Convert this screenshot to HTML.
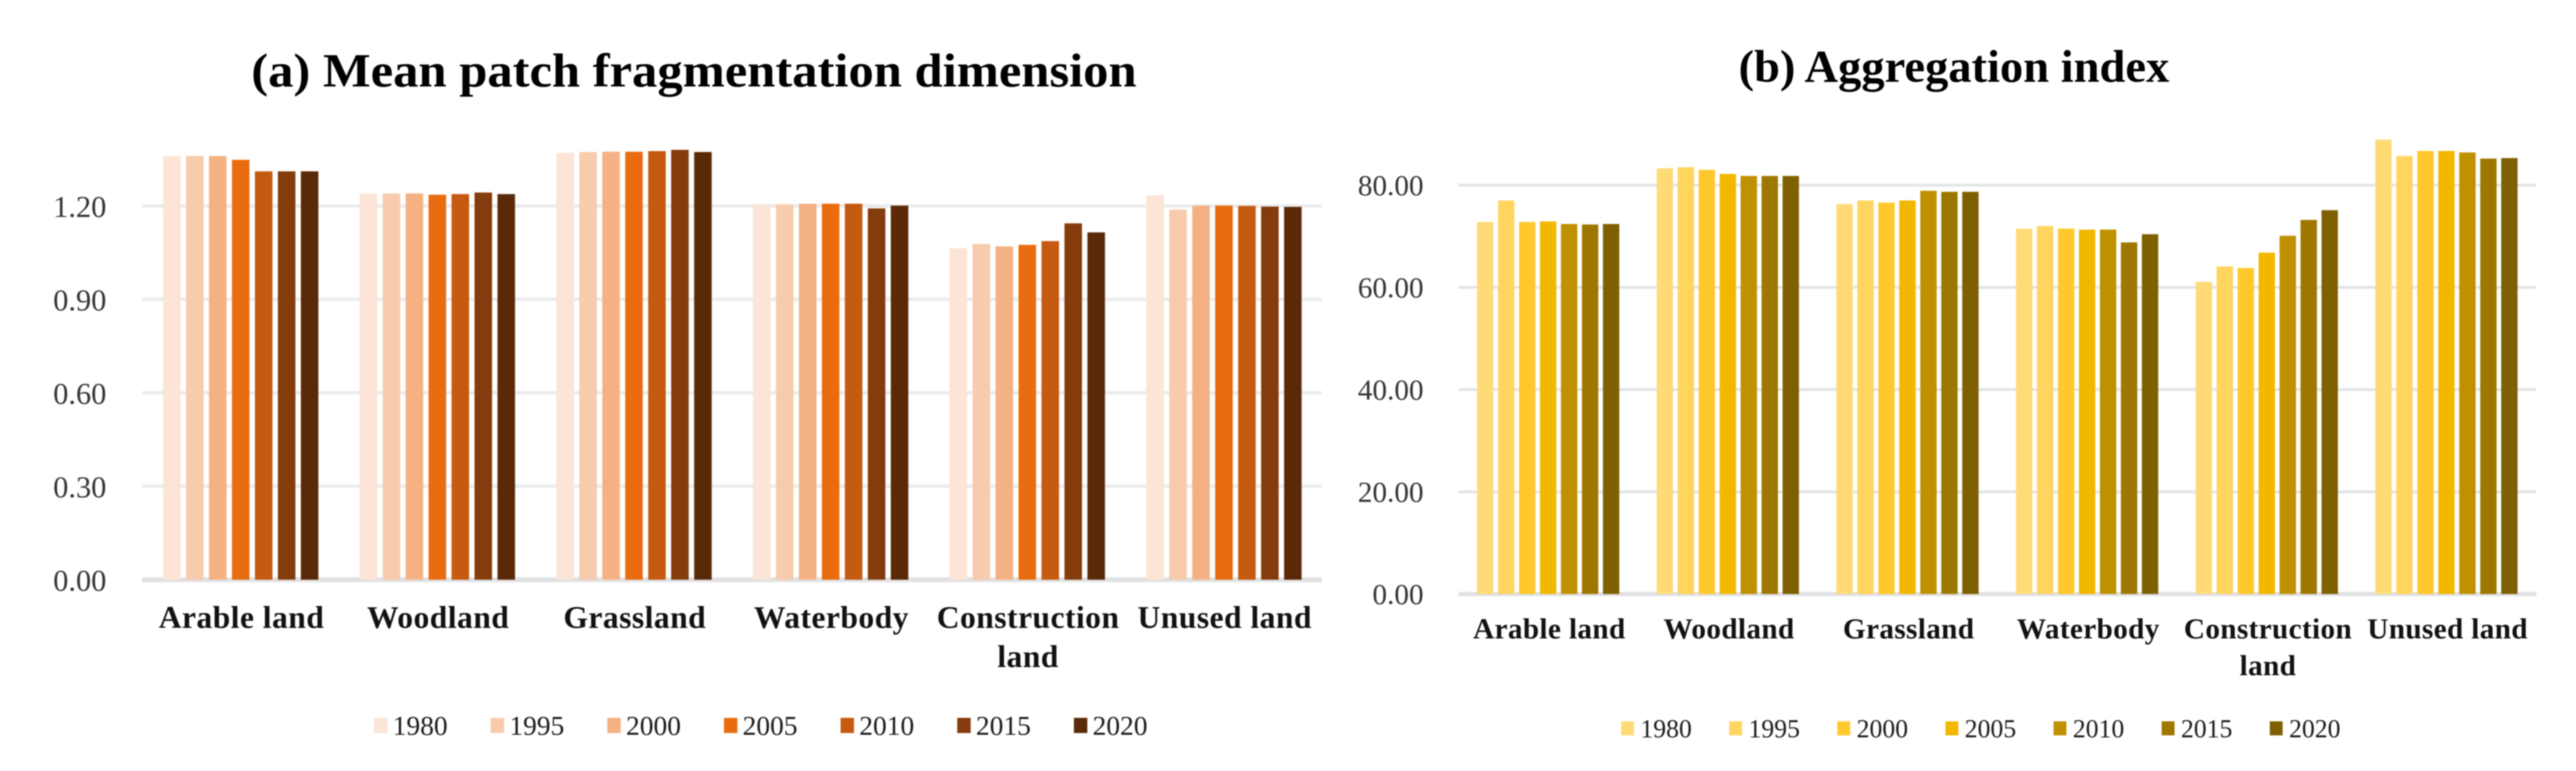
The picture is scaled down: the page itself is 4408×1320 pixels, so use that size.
<!DOCTYPE html>
<html lang="en">
<head>
<meta charset="utf-8">
<title>Mean patch fragmentation dimension and aggregation index</title>
<style>
  html, body { margin: 0; padding: 0; background: #fff; }
  body { width: 4408px; height: 1320px; overflow: hidden; }
  svg { display: block; font-family: "Liberation Serif", serif; filter: blur(1px); }
</style>
</head>
<body>
<svg id="figure" width="4408" height="1320" viewBox="0 0 4408 1320" xmlns="http://www.w3.org/2000/svg">
  <rect x="0" y="0" width="4408" height="1320" fill="#ffffff"/>
  <text x="430" y="148" font-size="82" font-weight="700" fill="#000" textLength="1515" lengthAdjust="spacingAndGlyphs">(a) Mean patch fragmentation dimension</text>
  <text x="2975" y="140" font-size="78" font-weight="700" fill="#000" textLength="737" lengthAdjust="spacingAndGlyphs">(b) Aggregation index</text>
  <g id="chart-a"></g>
  <g id="chart-b"></g>
</svg>
<script>
// Shared categories and legend years
const categories = ['Arable land', 'Woodland', 'Grassland', 'Waterbody', 'Construction\nland', 'Unused land'];
const years = ['1980', '1995', '2000', '2005', '2010', '2015', '2020'];

// Chart (a) values, one array per year, in category order
const a1980 = [1.360, 1.240, 1.370, 1.204, 1.064, 1.234];
const a1995 = [1.360, 1.240, 1.373, 1.205, 1.078, 1.188];
const a2000 = [1.360, 1.240, 1.374, 1.207, 1.070, 1.201];
const a2005 = [1.348, 1.236, 1.374, 1.207, 1.075, 1.201];
const a2010 = [1.311, 1.238, 1.376, 1.207, 1.087, 1.200];
const a2015 = [1.311, 1.243, 1.380, 1.192, 1.144, 1.198];
const a2020 = [1.311, 1.238, 1.373, 1.201, 1.115, 1.197];
const aTickValues = [0, 0.3, 0.6, 0.9, 1.2];
const aTickLabels = ['0.00', '0.30', '0.60', '0.90', '1.20'];

// Chart (b) values, one array per year, in category order
const b1980 = [72.8, 83.3, 76.3, 71.5, 61.1, 88.9];
const b1995 = [77.0, 83.5, 77.0, 72.0, 64.1, 85.7];
const b2000 = [72.8, 83.0, 76.6, 71.5, 63.8, 86.7];
const b2005 = [72.9, 82.2, 77.0, 71.3, 66.8, 86.7];
const b2010 = [72.4, 81.8, 78.9, 71.3, 70.1, 86.4];
const b2015 = [72.3, 81.8, 78.7, 68.8, 73.2, 85.2];
const b2020 = [72.4, 81.8, 78.7, 70.4, 75.1, 85.3];
const bTickValues = [0, 20, 40, 60, 80];
const bTickLabels = ['0.00', '20.00', '40.00', '60.00', '80.00'];

const SVG_NS = 'http://www.w3.org/2000/svg';

function makeShape(tag, parent, props, content) {
  const el = document.createElementNS(SVG_NS, tag);
  for (const key in props) el.setAttribute(key, props[key]);
  if (content !== undefined) el.textContent = content;
  parent.appendChild(el);
  return el;
}

function drawChart(cfg) {
  const root = document.getElementById(cfg.id);
  const yScale = v => cfg.baseY - v * cfg.pxPerUnit;
  const catWidth = (cfg.axisRight - cfg.axisLeft) / categories.length;
  const xBar = (c, s) => cfg.axisLeft + c * catWidth + cfg.groupInset + s * cfg.barPitch;

  cfg.tickValues.forEach((v, i) => {
    const grid = makeShape('rect', root, {
      x: cfg.axisLeft, y: yScale(v) - (v === 0 ? cfg.gridH / 2 + 1 : cfg.gridH / 2),
      width: cfg.axisRight - cfg.axisLeft, height: v === 0 ? cfg.gridH + 2 : cfg.gridH,
      fill: v === 0 ? '#e0e1e3' : cfg.gridColor
    });
    
    

    const tick = makeShape('text', root, {
      x: cfg.tickRight, y: yScale(v) + cfg.tickDy, 'text-anchor': 'end',
      'font-size': cfg.tickFont, fill: '#333333'
    }, cfg.tickLabels[i]);
    
    
  });

  cfg.series.forEach((values, s) => {
    values.forEach((v, c) => {
      const bar = makeShape('rect', root, {
        x: xBar(c, s), y: yScale(v), width: cfg.barW, height: cfg.baseY - yScale(v),
        fill: cfg.colors[s]
      });
      
      
    });
  });

  categories.forEach((name, c) => {
    const cx = cfg.axisLeft + (c + 0.5) * catWidth + 2;
    const lines = name.split('\n');
    lines.forEach((line, l) => {
      const label = makeShape('text', root, {
        x: cx, y: cfg.catY + l * cfg.catLine, 'text-anchor': 'middle',
        'font-size': cfg.catFont, 'font-weight': 700, 'letter-spacing': cfg.catSpacing, fill: '#111111'
      }, line);
      
      
    });
  });

  years.forEach((year, s) => {
    const x0 = cfg.legendX + s * cfg.legendPitch;
    const swatch = makeShape('rect', root, {
      x: x0, y: cfg.legendSwatchY, width: cfg.legendSwatchW, height: cfg.legendSwatchH,
      fill: cfg.colors[s]
    });
    
    

    const text = makeShape('text', root, {
      x: x0 + cfg.legendTextDx, y: cfg.legendBaseY, 'font-size': cfg.legendFont, fill: '#1a1a1a'
    }, year);
    
    
  });
}

drawChart({
  id: 'chart-a',
  series: [a1980, a1995, a2000, a2005, a2010, a2015, a2020],
  tickValues: aTickValues, tickLabels: aTickLabels,
  colors: ['#fce4d6', '#f7cbac', '#f4b183', '#e96c10', '#c55a11', '#843c0c', '#5a2a08'],
  baseY: 992.5, pxPerUnit: 533.3,
  axisLeft: 243, axisRight: 2262, groupInset: 36, barPitch: 39.3, barW: 30,
  gridH: 6, gridColor: '#ebecee', tickRight: 182, tickDy: 19, tickFont: 52,
  catY: 1075, catLine: 67, catFont: 54, catSpacing: 0.8,
  legendX: 640, legendPitch: 199.6, legendSwatchW: 23, legendSwatchH: 26, legendSwatchY: 1229,
  legendTextDx: 32, legendBaseY: 1258, legendFont: 47
});

drawChart({
  id: 'chart-b',
  series: [b1980, b1995, b2000, b2005, b2010, b2015, b2020],
  tickValues: bTickValues, tickLabels: bTickLabels,
  colors: ['#ffdb78', '#ffd560', '#ffc92e', '#f2b800', '#bf9000', '#9e7700', '#7f6000'],
  baseY: 1017, pxPerUnit: 8.75,
  axisLeft: 2495.5, axisRight: 4340, groupInset: 32, barPitch: 35.9, barW: 28,
  gridH: 5, gridColor: '#e4e5e7', tickRight: 2436, tickDy: 17, tickFont: 50,
  catY: 1093, catLine: 63, catFont: 50, catSpacing: 0.6,
  legendX: 2774, legendPitch: 185, legendSwatchW: 22, legendSwatchH: 24, legendSwatchY: 1235,
  legendTextDx: 33, legendBaseY: 1262, legendFont: 44
});
</script>
</body>
</html>
